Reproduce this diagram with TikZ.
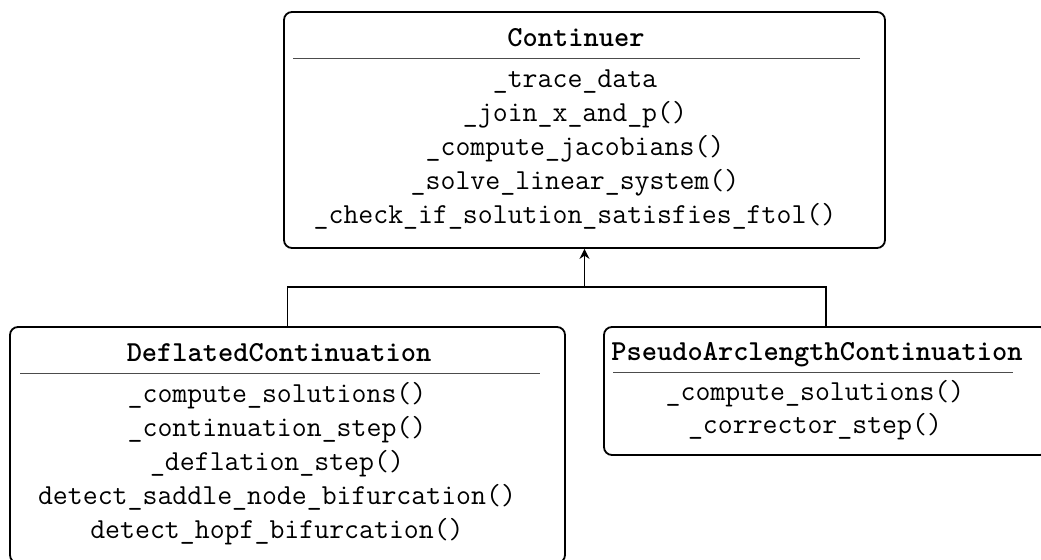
\documentclass[tikz,border=0pt]{standalone}
\usetikzlibrary{arrows.meta}
\tikzset{
  classbox/.style={draw, rounded corners=4pt, line width=0.9pt, inner sep=0pt},
  classrule/.style={line width=0.45pt, black!70},
  conn/.style={line width=0.9pt},
  inherit/.style={conn, -{Stealth[length=5pt,width=5pt]}},
  member/.style={font=\fontsize{14.5}{18}\selectfont\ttfamily, inner sep=0pt, anchor=base},
  classname/.style={member, font=\fontsize{14.5}{18}\selectfont\ttfamily\bfseries},
}
\begin{document}
\begin{tikzpicture}[x=0.5pt,y=-0.5pt]
  \path[use as bounding box, fill=white] (0,0) rectangle (1041,560);
  \clip (0,0) rectangle (1041,560);

  % class boxes
  \node[classbox, minimum width=300.5pt, minimum height=118pt] (cont) at (584.5,130) {};
  \node[classbox, minimum width=277.5pt, minimum height=118pt] (defl) at (287.5,445) {};
  \node[classbox, minimum width=222pt, minimum height=64pt] (pseudo) at (826,391) {};

  % Continuer
  \node[classname] (contname) at (576,47) {Continuer};
  \draw[classrule] (293,58) -- (860,58);
  \node[member] (c1) at (575,88) {\_trace\_data};
  \node[member] (c2) at (575,122) {\_join\_x\_and\_p()};
  \node[member] (c3) at (575,156) {\_compute\_jacobians()};
  \node[member] (c4) at (575,190) {\_solve\_linear\_system()};
  \node[member] (c5) at (575,224) {\_check\_if\_solution\_satisfies\_ftol()};

  % DeflatedContinuation
  \node[classname] (deflname) at (279,362) {DeflatedContinuation};
  \draw[classrule] (20,373) -- (540,373);
  \node[member] (d1) at (277,403) {\_compute\_solutions()};
  \node[member] (d2) at (277,437) {\_continuation\_step()};
  \node[member] (d3) at (277,471) {\_deflation\_step()};
  \node[member] (d4) at (277,505) {detect\_saddle\_node\_bifurcation()};
  \node[member] (d5) at (277,539) {detect\_hopf\_bifurcation()};

  % PseudoArclengthContinuation
  \node[classname] (pseudoname) at (817,361) {PseudoArclengthContinuation};
  \draw[classrule] (613,372) -- (1013,372);
  \node[member] (p1) at (815,401) {\_compute\_solutions()};
  \node[member] (p2) at (815,434) {\_corrector\_step()};

  % inheritance connectors
  \coordinate (join) at (584.5,287);
  \draw[conn] (defl.north) |- (join);
  \draw[conn] (pseudo.north) |- (join);
  \draw[inherit] (join) -- (cont.south);
\end{tikzpicture}
\end{document}
